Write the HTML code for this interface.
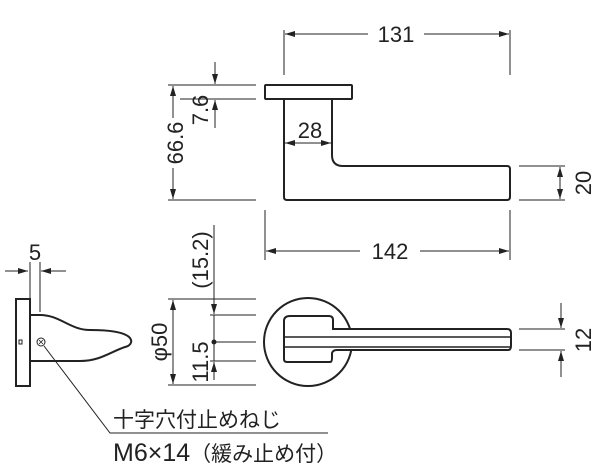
<!DOCTYPE html>
<html><head><meta charset="utf-8"><style>
html,body{margin:0;padding:0;background:#fff}
svg{display:block}
text{font-family:"Liberation Sans","Noto Sans CJK JP",sans-serif;fill:#222}
</style></head><body>
<svg width="600" height="475" viewBox="0 0 600 475" xmlns="http://www.w3.org/2000/svg">
<defs>
<marker id="a" viewBox="0 0 10 6" refX="10" refY="3" markerWidth="10" markerHeight="6" orient="auto-start-reverse" markerUnits="userSpaceOnUse"><path d="M0,0 L10,3 L0,6 z" fill="#222"/></marker>
</defs>
<g stroke="#222" stroke-width="1" fill="none">
<line x1="284" y1="30" x2="284" y2="75"/><line x1="510" y1="30" x2="510" y2="75"/>
<line x1="285" y1="34" x2="368" y2="34" marker-start="url(#a)"/><line x1="424" y1="34" x2="509" y2="34" marker-end="url(#a)"/>
<rect x="265" y="85" width="87" height="14" rx="1" stroke-width="2"/>
<path d="M284,99 L284,197 Q284,200 287,200 L507,200 Q510,200 510,197 L510,169 Q510,166 507,166 L343,166 Q332,166 332,155 L332,99" stroke-width="2"/>
<line x1="519" y1="166" x2="565" y2="166"/><line x1="519" y1="200" x2="565" y2="200"/>
<line x1="560" y1="183" x2="560" y2="167" marker-end="url(#a)"/><line x1="560" y1="183" x2="560" y2="199" marker-end="url(#a)"/>
<line x1="168" y1="85" x2="256" y2="85"/><line x1="168" y1="200" x2="256" y2="200"/><line x1="180" y1="99" x2="256" y2="99"/>
<line x1="173" y1="118" x2="173" y2="86" marker-end="url(#a)"/><line x1="173" y1="168" x2="173" y2="199" marker-end="url(#a)"/>
<line x1="215" y1="62" x2="215" y2="84" marker-end="url(#a)"/><line x1="215" y1="128" x2="215" y2="100" marker-end="url(#a)"/>
<line x1="308" y1="143" x2="285" y2="143" marker-end="url(#a)"/><line x1="308" y1="143" x2="331" y2="143" marker-end="url(#a)"/>
<line x1="265" y1="210" x2="265" y2="260"/><line x1="510" y1="210" x2="510" y2="260"/>
<line x1="266" y1="251" x2="360" y2="251" marker-start="url(#a)"/><line x1="420" y1="251" x2="509" y2="251" marker-end="url(#a)"/>
<line x1="5" y1="271" x2="28" y2="271" marker-end="url(#a)"/><line x1="66" y1="271" x2="41" y2="271" marker-end="url(#a)"/>
<line x1="30" y1="262" x2="30" y2="299"/><line x1="40" y1="262" x2="40" y2="312"/>
<rect x="16" y="299" width="14" height="87" stroke-width="2"/>
<rect x="19" y="340" width="3" height="4" stroke-width="1"/>
<path d="M31,315 L40,315 C60,315 70,330 90,330 C110,330 125,332 130,338 C133,342 130,346 125,347 C110,352 100,361 80,361 L31,361" stroke-width="2"/>
<circle cx="41" cy="342" r="4"/>
<path d="M39,340 L43,344 M43,340 L39,344" stroke-width="0.8"/>
<polyline points="44,346 110,433 328,433"/>
<line x1="168" y1="299" x2="256" y2="299"/><line x1="210" y1="315" x2="256" y2="315"/><line x1="214" y1="342" x2="256" y2="342"/><line x1="210" y1="361" x2="256" y2="361"/><line x1="168" y1="385" x2="256" y2="385"/>
<line x1="173" y1="342" x2="173" y2="300" marker-end="url(#a)"/><line x1="173" y1="342" x2="173" y2="384" marker-end="url(#a)"/>
<line x1="214" y1="225" x2="214" y2="314" marker-end="url(#a)"/><line x1="214" y1="380" x2="214" y2="362" marker-end="url(#a)"/>
<line x1="214" y1="315" x2="214" y2="361"/>
<circle cx="308" cy="342" r="44" stroke-width="2"/>
<path d="M333,329 L333,320 Q333,316 329,316 L290,316 Q284,316 284,321 L284,359 Q284,362 287,362 L330,362 Q332,362 332,358 L332,353 Q333,350 337,350 L508,350 Q511,350 511,346 L511,333 Q511,329 507,329 Z" stroke-width="2" fill="#fff"/>
<line x1="285" y1="337" x2="510" y2="337" stroke-width="1.5"/><line x1="285" y1="347" x2="510" y2="347" stroke-width="1.5"/>
<line x1="519" y1="329" x2="565" y2="329"/><line x1="519" y1="350" x2="565" y2="350"/>
<line x1="561" y1="303" x2="561" y2="328" marker-end="url(#a)"/><line x1="561" y1="377" x2="561" y2="351" marker-end="url(#a)"/>
</g>
<circle cx="214" cy="342" r="2.5" fill="#222"/>
<g font-size="22">
<text x="396" y="42" text-anchor="middle">131</text>
<text x="390" y="259" text-anchor="middle">142</text>
<text x="310" y="138" text-anchor="middle">28</text>
<text x="35" y="260" text-anchor="middle">5</text>
<text transform="translate(183,143) rotate(-90)" text-anchor="middle">66.6</text>
<text transform="translate(208,110) rotate(-90)" text-anchor="middle">7.6</text>
<text transform="translate(591,183) rotate(-90)" text-anchor="middle">20</text>
<text transform="translate(591,340) rotate(-90)" text-anchor="middle">12</text>
<text transform="translate(167,342) rotate(-90)" text-anchor="middle">φ50</text>
<text transform="translate(208,362) rotate(-90)" text-anchor="middle">11.5</text>
<text transform="translate(208,260) rotate(-90)" text-anchor="middle">(15.2)</text>
</g>
<text x="113" y="427" font-size="21">十字穴付止めねじ</text>
<text x="113" y="461" font-size="21"><tspan font-size="25">M6×14</tspan>（緩み止め付）</text>
</svg>
</body></html>
